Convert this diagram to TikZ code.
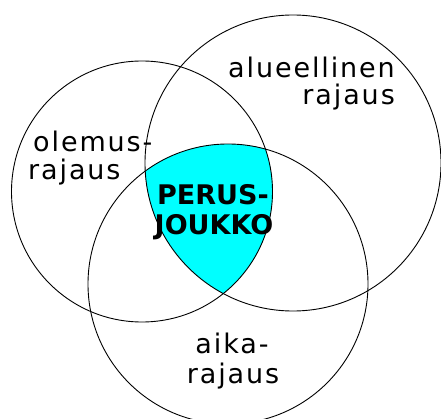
\documentclass[tikz,border=0pt]{standalone}
\usepackage{fontspec}
\newfontfamily\lblfont[LetterSpace=7]{DejaVu Sans}
\newfontfamily\corefont{DejaVu Sans}
\definecolor{corecyan}{RGB}{0,255,255}
\tikzset{
  ring/.style={draw=black, line width=0.9pt},
  lbl/.style={inner sep=0pt, font=\lblfont\fontsize{27}{30}\selectfont},
  core/.style={inner sep=0pt, font=\corefont\bfseries\fontsize{27}{30}\selectfont},
}
\begin{document}
\begin{tikzpicture}[x=1pt,y=-1pt]
\useasboundingbox[fill=white] (0,0) rectangle (441,419);
% centres
\coordinate (cL) at (142,191.5);
\coordinate (cR) at (293,163);
\coordinate (cB) at (228,284);
% common part
\begin{scope}
  \clip (cL) circle (130.5pt);
  \clip (cR) circle (148pt);
  \fill[corecyan] (cB) circle (140pt);
\end{scope}
% circles
\draw[ring] (cL) circle (130.5pt);
\draw[ring] (cR) circle (148pt);
\draw[ring] (cB) circle (140pt);
% labels
\node[lbl, anchor=base east] (alue1) at (395,78) {alueellinen};
\node[lbl, anchor=base east] (alue2) at (395,105) {rajaus};
\node[lbl, anchor=base west] (olem1) at (33,152) {olemus-};
\node[lbl, anchor=base west] (olem2) at (28,180) {rajaus};
\node[lbl, anchor=base] (aika1) at (232,353) {aika-};
\node[lbl, anchor=base] (aika2) at (233,383) {rajaus};
\node[core, anchor=base] (perus1) at (213,205) {PERUS-};
\node[core, anchor=base] (perus2) at (214,235) {JOUKKO};
\end{tikzpicture}
\end{document}
